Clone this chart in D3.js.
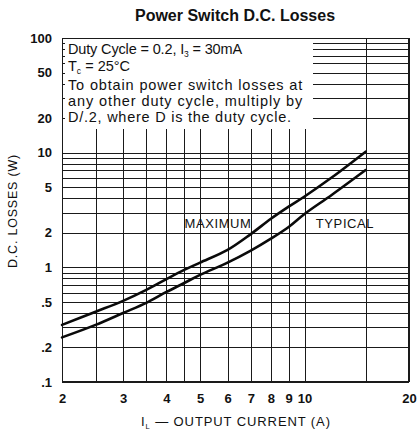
<!DOCTYPE html>
<html>
<head>
<meta charset="utf-8">
<script src="https://cdn.jsdelivr.net/npm/d3@7"></script>
<style>
  html, body { margin: 0; padding: 0; background: #fff; }
  svg { display: block; }
  text { font-family: "Liberation Sans", Arial, Helvetica, sans-serif; fill: #111; }
</style>
</head>
<body>
<svg id="chart" width="417" height="432"></svg>
<script>
// ---- data ----
const currents = [2, 2.5, 3, 3.5, 4, 4.5, 5, 6, 7, 8, 9, 10, 12, 15];
const maximumLoss = [0.315, 0.41, 0.51, 0.635, 0.79, 0.95, 1.1, 1.42, 1.95, 2.65, 3.38, 4.15, 6.1, 10.2];
const typicalLoss = [0.245, 0.315, 0.40, 0.49, 0.61, 0.73, 0.86, 1.1, 1.4, 1.78, 2.25, 2.92, 4.3, 7.06];
const xTickValues = [2, 3, 4, 5, 6, 7, 8, 9, 10, 20];
const xTickLabels = ["2", "3", "4", "5", "6", "7", "8", "9", "10", "20"];
const xGridValues = [2, 2.5, 3, 3.5, 4, 4.5, 5, 6, 7, 8, 9, 10, 15, 20];
const yTickValues = [100, 50, 20, 10, 5, 2, 1, 0.5, 0.2, 0.1];
const yTickLabels = ["100", "50", "20", "10", "5", "2", "1", ".5", ".2", ".1"];
const yGridValues = [0.1,0.2,0.3,0.4,0.5,0.6,0.7,0.8,0.9,1,2,3,4,5,6,7,8,9,10,20,30,40,50,60,70,80,90,100];
const noteLines = ["Duty Cycle = 0.2, I|3| = 30mA", "T|c| = 25°C", "To obtain power switch losses at", "any other duty cycle, multiply by", "D/.2, where D is the duty cycle."];

// ---- layout ----
const L = 62, R = 409, T = 38, B = 382;
const svg = d3.select("#chart");
svg.append("rect").attr("width", 417).attr("height", 432).attr("fill", "#fff");

const x = d3.scaleLog().domain([2, 20]).range([L, R]);
const y = d3.scaleLog().domain([0.1, 100]).range([B, T]);

// grid
const grid = svg.append("g").attr("stroke", "#1a1a1a").attr("stroke-width", 1).attr("shape-rendering", "crispEdges");
grid.selectAll(".vg").data(xGridValues).join("line")
  .attr("x1", d => Math.round(x(d)) + 0.5).attr("x2", d => Math.round(x(d)) + 0.5)
  .attr("y1", T).attr("y2", B);
grid.selectAll(".hg").data(yGridValues).join("line")
  .attr("y1", d => Math.round(y(d)) + 0.5).attr("y2", d => Math.round(y(d)) + 0.5)
  .attr("x1", L).attr("x2", R);

// note box (white area masking grid)
const boxR = 313, boxB = 129;
svg.append("rect").attr("x", L + 1).attr("y", T + 1).attr("width", boxR - L - 1).attr("height", boxB - T - 1).attr("fill", "#fff");
// small edge ticks on left border inside box
svg.append("g").attr("stroke", "#1a1a1a").attr("shape-rendering", "crispEdges")
  .selectAll("line").data(yGridValues.filter(d => y(d) < boxB)).join("line")
  .attr("y1", d => Math.round(y(d)) + 0.5).attr("y2", d => Math.round(y(d)) + 0.5)
  .attr("x1", L).attr("x2", L + 3);

// frame
svg.append("rect").attr("x", L + 0.5).attr("y", T + 0.5).attr("width", R - L - 1).attr("height", B - T - 1)
  .attr("fill", "none").attr("stroke", "#1a1a1a").attr("stroke-width", 1.2).attr("shape-rendering", "crispEdges");

// axes via d3 axis generators (labels only)
const xAxis = d3.axisBottom(x).tickValues(xTickValues).tickFormat((d, i) => xTickLabels[i]).tickSize(0).tickPadding(12);
const gx = svg.append("g").attr("transform", `translate(0,${B})`).call(xAxis);
gx.select(".domain").remove();
gx.selectAll("text").attr("font-size", 13).attr("font-weight", "bold").attr("fill", "#111")
  .attr("font-family", "'Liberation Sans', Arial, sans-serif");

const yAxis = d3.axisLeft(y).tickValues(yTickValues).tickFormat((d, i) => yTickLabels[i]).tickSize(0).tickPadding(10);
const gy = svg.append("g").attr("transform", `translate(${L},0)`).call(yAxis);
gy.select(".domain").remove();
gy.selectAll("text").attr("font-size", 13).attr("font-weight", "bold").attr("fill", "#111")
  .attr("font-family", "'Liberation Sans', Arial, sans-serif");

// curves
const line = d3.line().x(d => x(d[0])).y(d => y(d[1])).curve(d3.curveCatmullRom.alpha(0.5));
const maxPts = currents.map((c, i) => [c, maximumLoss[i]]);
const typPts = currents.map((c, i) => [c, typicalLoss[i]]);
[maxPts, typPts].forEach(pts => {
  svg.append("path").datum(pts).attr("d", line).attr("fill", "none")
    .attr("stroke", "#0a0a0a").attr("stroke-width", 2.6).attr("stroke-linecap", "round");
});

// curve labels
svg.append("text").attr("x", 218).attr("y", 228).attr("text-anchor", "middle")
  .attr("font-size", 13).attr("letter-spacing", 0.6).text("MAXIMUM");
svg.append("text").attr("x", 345).attr("y", 228).attr("text-anchor", "middle")
  .attr("font-size", 13).attr("letter-spacing", 0.6).text("TYPICAL");

// note text
const baselines = [53.5, 71, 89.5, 106, 122];
const spacing = [-0.15, 0, 0.85, 0.9, 0.75];
noteLines.forEach((s, i) => {
  const t = svg.append("text").attr("x", 68).attr("y", baselines[i]).attr("font-size", 14.5)
    .attr("letter-spacing", spacing[i]);
  s.split("|").forEach((part, j) => {
    if (j % 2 === 1) t.append("tspan").attr("font-size", 8.5).attr("dy", 3).text(part);
    else t.append("tspan").attr("dy", j === 0 ? 0 : -3).text(part);
  });
});

// title
svg.append("text").attr("x", 235).attr("y", 21).attr("text-anchor", "middle")
  .attr("font-size", 16).attr("font-weight", "bold").text("Power Switch D.C. Losses");

// x axis title
const xt = svg.append("text").attr("x", 236).attr("y", 426).attr("text-anchor", "middle")
  .attr("font-size", 13).attr("letter-spacing", 0.9);
xt.append("tspan").text("I");
xt.append("tspan").attr("font-size", 7.5).attr("dy", 3).text("L");
xt.append("tspan").attr("dy", -3).text(" — OUTPUT CURRENT (A)");

// y axis title
svg.append("text").attr("transform", "translate(17,211) rotate(-90)").attr("text-anchor", "middle")
  .attr("font-size", 12.5).attr("letter-spacing", 0.8).text("D.C. LOSSES (W)");
</script>
</body>
</html>
